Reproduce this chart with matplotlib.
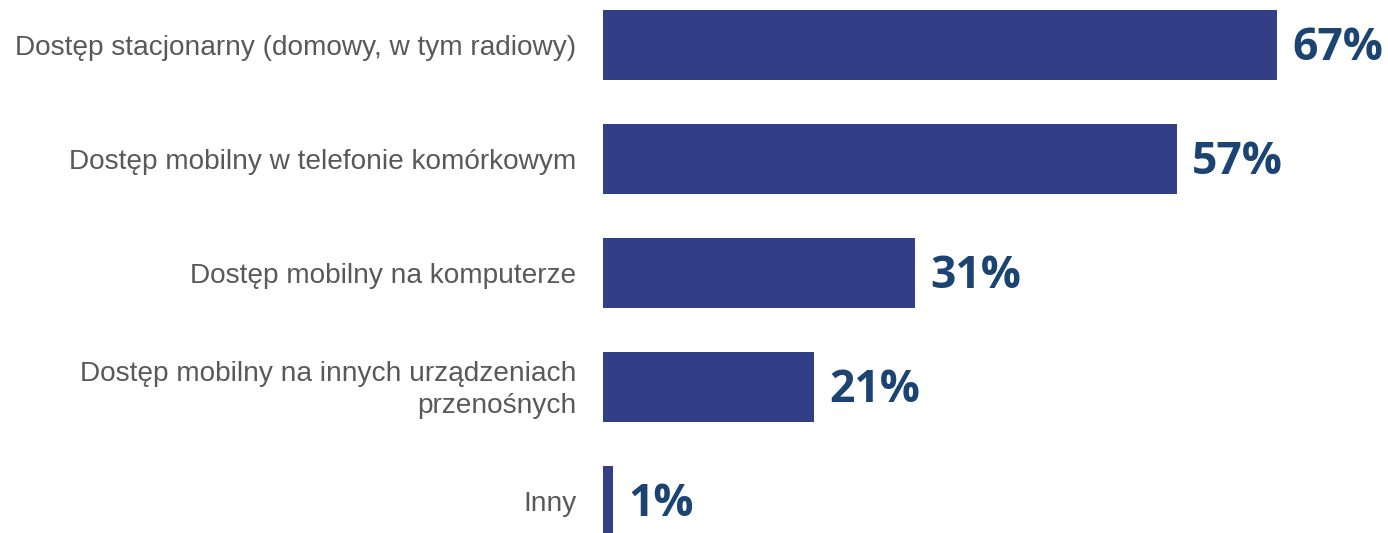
import matplotlib.pyplot as plt

# Data
categories = [
    "Dostęp stacjonarny (domowy, w tym radiowy)",
    "Dostęp mobilny w telefonie komórkowym",
    "Dostęp mobilny na komputerze",
    "Dostęp mobilny na innych urządzeniach\nprzenośnych",
    "Inny",
]
values = [67, 57, 31, 21, 1]

bar_color = "#323F87"
value_color = "#1B4472"
label_color = "#595959"

fig = plt.figure(figsize=(13.88, 5.33), dpi=100)
ax = fig.add_axes([0.4344, 0, 0.5656, 1])

pos = list(range(len(values)))
ax.barh(pos, values, height=0.614, color=bar_color)

ax.set_xlim(0, 78)
ax.set_ylim(4.28, -0.395)
ax.axis('off')

# value labels
for p, v in zip(pos, values):
    ax.annotate(f"{v}%", (v, p), xytext=(11, -2.5), textcoords='offset points',
                ha='left', va='center', fontsize=32, fontweight='bold',
                family='Open Sans', color=value_color)

# category labels
for p, c in zip(pos, categories):
    ax.annotate(c, (0, p), xytext=(-19, -2), textcoords='offset points',
                ha='right', va='center', fontsize=20.2, family='Liberation Sans',
                color=label_color, multialignment='right', linespacing=1.3,
                annotation_clip=False)

fig.savefig('out.png', dpi=100)
